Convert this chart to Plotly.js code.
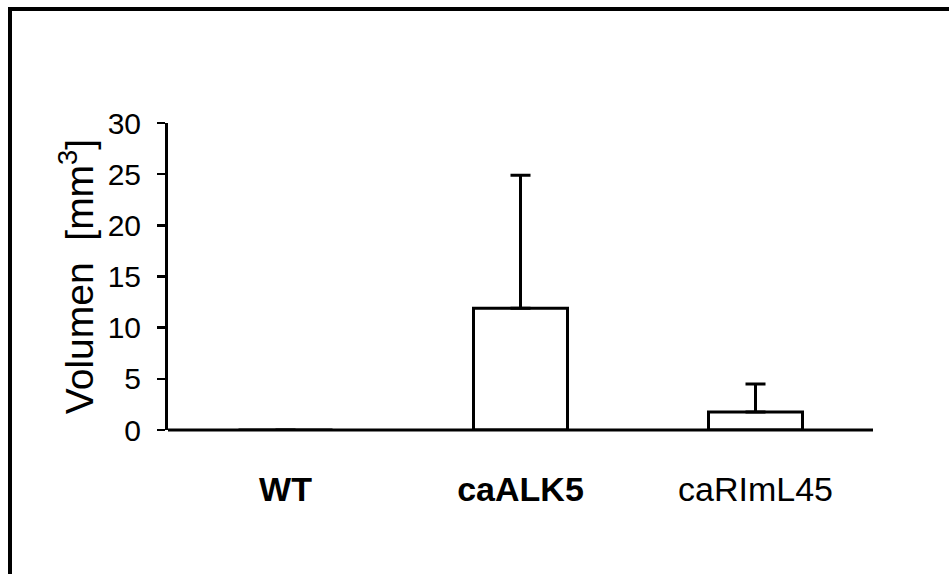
<!DOCTYPE html>
<html>
<head>
<meta charset="utf-8">
<script src="https://cdn.plot.ly/plotly-3.0.1.min.js"></script>
<style>html,body{margin:0;padding:0;background:#fff;}#chart{width:949px;height:574px;}</style>
</head>
<body>
<div id="chart"></div>
<script>
const categories = ["WT", "caALK5", "caRImL45"];
const tickLabels = ["<b>WT</b>", "<b>caALK5</b>", "caRImL45"];
const meanValues = [0, 11.9, 1.75];
const errorPlus = [0, 13.0, 2.75];
const errorMinus = [0, 0, 0];
const yTicks = [0, 5, 10, 15, 20, 25, 30];

const font = "Liberation Sans, Arial, sans-serif";

const trace = {
  type: "bar",
  x: categories,
  y: meanValues,
  width: 0.4,
  marker: {color: "#ffffff", line: {color: "#000000", width: 3}},
  error_y: {
    type: "data", symmetric: false,
    array: errorPlus, arrayminus: errorMinus,
    color: "#000000", thickness: 3, width: 10
  },
  hoverinfo: "none"
};

const layout = {
  width: 949, height: 574,
  margin: {l: 168, r: 76, t: 123, b: 144},
  paper_bgcolor: "#ffffff",
  plot_bgcolor: "rgba(0,0,0,0)",
  showlegend: false,
  font: {family: font, color: "#000000"},
  xaxis: {
    type: "category",
    range: [-0.5, 2.5],
    tickvals: categories,
    ticktext: tickLabels,
    ticks: "",
    showgrid: false,
    zeroline: false,
    showline: false,
    tickfont: {family: font, size: 34, color: "#000000"},
    ticklabelstandoff: 36
  },
  yaxis: {
    range: [0, 30],
    tickvals: yTicks,
    ticks: "outside",
    ticklen: 8,
    tickwidth: 2.5,
    tickcolor: "#000000",
    showline: true,
    linecolor: "#000000",
    linewidth: 3,
    showgrid: false,
    zeroline: false,
    tickfont: {family: font, size: 30, color: "#000000"},
    ticklabelstandoff: 10,
    title: {text: "Volumen  [mm<sup>3</sup>]", font: {family: font, size: 39, color: "#000000"}, standoff: 2}
  },
  shapes: [
    {type: "line", xref: "paper", yref: "paper", x0: 0, x1: 1, y0: 0, y1: 0,
     line: {color: "#000000", width: 3}},
    {type: "rect", xref: "paper", yref: "paper",
     x0: (10 - 168) / 705, x1: (960 - 168) / 705,
     y0: (430 - 590) / 307, y1: (430 - 9) / 307,
     line: {color: "#000000", width: 4}, fillcolor: "rgba(0,0,0,0)", layer: "above"}
  ]
};

Plotly.newPlot("chart", [trace], layout, {staticPlot: true, displayModeBar: false});
</script>
</body>
</html>
